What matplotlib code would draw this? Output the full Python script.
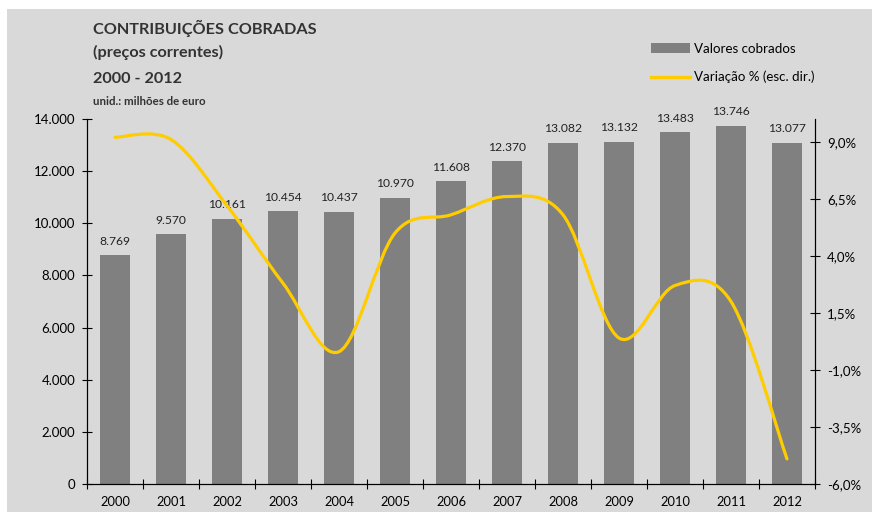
import numpy as np
import matplotlib.pyplot as plt
from matplotlib.path import Path
from matplotlib.patches import PathPatch, Patch, Rectangle
from matplotlib.lines import Line2D

plt.rcParams['font.family'] = ['Lato', 'DejaVu Sans']

years = ['2000', '2001', '2002', '2003', '2004', '2005', '2006',
         '2007', '2008', '2009', '2010', '2011', '2012']
valores = [8769, 9570, 10161, 10454, 10437, 10970, 11608,
           12370, 13082, 13132, 13483, 13746, 13077]
variacao = [9.2, 9.1, 6.2, 2.8, -0.2, 5.0, 5.8, 6.6, 5.8, 0.4, 2.7, 2.0, -4.9]

bg = '#d9d9d9'
bar_c = '#808080'
line_c = '#ffcc00'

fig = plt.figure(figsize=(8.72, 5.12), dpi=100, facecolor='white')
# gray chart area with thin white margin at top/left
fig.patches.append(Rectangle((7 / 872, 0), 1, 1 - 9 / 512, transform=fig.transFigure,
                             facecolor=bg, edgecolor='none', zorder=-10))

ax = fig.add_axes([0.0998, 0.0547, 0.8348, 0.7129])
ax.set_facecolor(bg)
x = np.arange(len(years))
ax.bar(x, valores, width=0.52, color=bar_c, zorder=2)
for xi, v in zip(x, valores):
    ax.text(xi, v + 330, f'{v:,}'.replace(',', '.'), ha='center', va='bottom',
            fontsize=8.7, color='#222222')

ax.set_xlim(-0.5, len(years) - 0.5)
ax.set_ylim(0, 14000)
ax.set_yticks(range(0, 14001, 2000))
ax.set_yticklabels([f'{t:,}'.replace(',', '.') for t in range(0, 14001, 2000)])
ax.set_xticks(x)
ax.set_xticklabels(years)
ax.set_xticks(np.arange(-0.5, len(years), 1), minor=True)
ax.tick_params(axis='x', which='major', length=0, pad=9, labelsize=9.3)
ax.tick_params(axis='x', which='minor', direction='inout', length=7, width=0.8)
ax.tick_params(axis='y', direction='inout', length=7, width=0.8, labelsize=9.5, pad=5)
ax.spines['top'].set_visible(False)
for s in ['left', 'bottom', 'right']:
    ax.spines[s].set_linewidth(0.8)

ax2 = ax.twinx()
ax2.set_ylim(-6, 10)
ticks2 = [-6.0, -3.5, -1.0, 1.5, 4.0, 6.5, 9.0]
ax2.set_yticks(ticks2)
ax2.set_yticklabels([f'{t:.1f}%'.replace('.', ',') for t in ticks2])
ax2.tick_params(axis='y', direction='inout', length=7, width=0.8, labelsize=9.5, pad=5)
ax2.spines['top'].set_visible(False)
ax2.spines['right'].set_linewidth(0.8)

# smoothed line (Catmull-Rom style bezier, like Excel)
pts = np.column_stack([x, variacao]).astype(float)
verts = [pts[0]]
codes = [Path.MOVETO]
n = len(pts)
for i in range(n - 1):
    p0 = pts[i - 1] if i > 0 else pts[i]
    p1 = pts[i]
    p2 = pts[i + 1]
    p3 = pts[i + 2] if i + 2 < n else pts[i + 1]
    c1 = p1 + (p2 - p0) / 6
    c2 = p2 - (p3 - p1) / 6
    verts += [c1, c2, p2]
    codes += [Path.CURVE4] * 3
ax2.add_patch(PathPatch(Path(verts, codes), facecolor='none', edgecolor=line_c,
                        lw=2.3, capstyle='round', zorder=3))

fig.text(0.107, 0.945, 'CONTRIBUIÇÕES COBRADAS', fontsize=11.7, fontweight='bold',
         color='#333333', va='center')
fig.text(0.107, 0.898, '(preços correntes)', fontsize=11.7, fontweight='bold',
         color='#333333', va='center')
fig.text(0.107, 0.846, '2000 - 2012', fontsize=11.7, fontweight='bold',
         color='#333333', va='center')
fig.text(0.107, 0.801, 'unid.: milhões de euro', fontsize=8.3, fontweight='bold',
         color='#333333', va='center')

handles = [Patch(facecolor=bar_c, edgecolor='none'),
           Line2D([0], [0], color=line_c, lw=2.3)]
fig.legend(handles, ['Valores cobrados', 'Variação % (esc. dir.)'],
           loc='upper left', bbox_to_anchor=(0.733, 0.94), frameon=False,
           fontsize=9.6, handlelength=2.9, handletextpad=0.3, labelspacing=1.2)

plt.savefig('out.png', dpi=100, facecolor='white')
